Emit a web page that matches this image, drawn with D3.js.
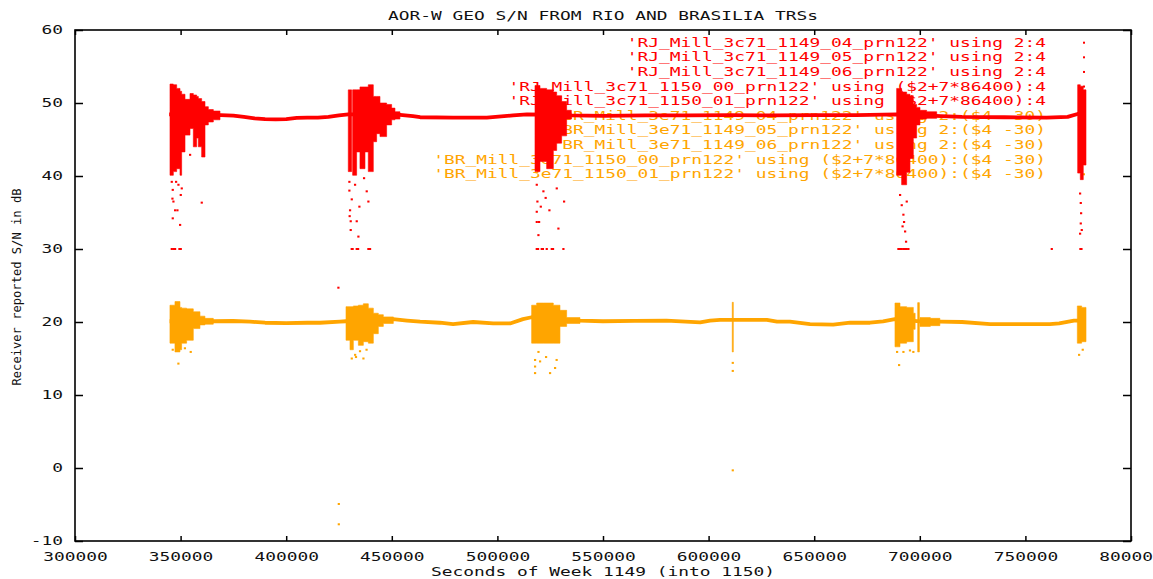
<!DOCTYPE html>
<html>
<head>
<meta charset="utf-8">
<script src="https://cdn.jsdelivr.net/npm/d3@7"></script>
<style>
  html, body { margin: 0; padding: 0; background: #fff; }
  svg { display: block; }
  text { font-family: "DejaVu Sans Mono", "Liberation Mono", monospace; font-size: 12px; fill: #111; }
</style>
</head>
<body>
<svg id="chart" width="1153" height="579"></svg>
<script>
// ---------------- data ----------------
const titleText = "AOR-W GEO S/N FROM RIO AND BRASILIA TRSs";
const xLabelText = "Seconds of Week 1149 (into 1150)";
const yLabelText = "Receiver reported S/N in dB";
const xTicks = [300000, 350000, 400000, 450000, 500000, 550000, 600000, 650000, 700000, 750000, 800000];
const yTicks = [-10, 0, 10, 20, 30, 40, 50, 60];

const legendLabels = [
  "'RJ_Mill_3c71_1149_04_prn122' using 2:4",
  "'RJ_Mill_3c71_1149_05_prn122' using 2:4",
  "'RJ_Mill_3c71_1149_06_prn122' using 2:4",
  "'RJ_Mill_3c71_1150_00_prn122' using ($2+7*86400):4",
  "'RJ_Mill_3c71_1150_01_prn122' using ($2+7*86400):4",
  "'BR_Mill_3e71_1149_04_prn122' using 2:($4 -30)",
  "'BR_Mill_3e71_1149_05_prn122' using 2:($4 -30)",
  "'BR_Mill_3e71_1149_06_prn122' using 2:($4 -30)",
  "'BR_Mill_3e71_1150_00_prn122' using ($2+7*86400):($4 -30)",
  "'BR_Mill_3e71_1150_01_prn122' using ($2+7*86400):($4 -30)"
];
const legendStation = ["RJ","RJ","RJ","RJ","RJ","BR","BR","BR","BR","BR"];

// RJ (Rio) receiver: quiet trace [seconds, dB]
const rjTrace = [
  [344600, 48.45], [369000, 48.35], [375000, 48.27], [380000, 48.1], [385000, 47.9], [390000, 47.8],
  [395000, 47.75], [400000, 47.8], [405000, 47.95], [410000, 48.0], [415000, 48.0], [420000, 48.1],
  [425000, 48.3], [429400, 48.45], [440000, 48.45], [453900, 48.36], [460000, 48.2], [463400, 48.05],
  [479000, 48.0], [495000, 48.0], [507400, 48.3], [514000, 48.45], [525000, 48.4], [535000, 48.3],
  [550000, 48.25], [570000, 48.3], [590000, 48.3], [610000, 48.35], [630000, 48.3], [650000, 48.35],
  [670000, 48.35], [689000, 48.45], [703000, 48.3], [710000, 48.2], [720000, 48.1], [740000, 48.05],
  [760000, 48.0], [770000, 48.1], [774700, 48.5], [778600, 48.5]
];
// RJ noisy bursts: [start s, end s, max dB, min dB] of the dense point cloud
const rjBursts = [
  [344980, 346560, 52.6, 40.1], [346560, 348140, 52.5, 40.6], [348140, 349720, 52.0, 41.0],
  [349720, 350500, 51.6, 40.1], [350500, 352080, 51.2, 43.3], [352080, 354450, 50.5, 45.6],
  [354450, 356030, 51.3, 46.5], [356030, 357600, 51.1, 44.0], [357600, 358400, 50.9, 45.2],
  [358400, 359970, 50.6, 44.0], [359970, 361550, 50.2, 42.6], [361550, 363130, 49.5, 47.0],
  [363130, 365500, 49.1, 47.4], [365500, 368650, 48.9, 47.7],
  [429400, 430980, 51.8, 40.6], [431460, 433350, 51.8, 40.1], [433350, 434930, 51.8, 43.3],
  [434930, 437300, 52.2, 41.0], [437300, 438870, 52.2, 43.3], [438870, 441240, 52.5, 40.6],
  [441240, 442820, 50.9, 44.7], [442820, 444400, 50.9, 45.8], [444400, 447550, 50.0, 45.4],
  [447550, 449920, 49.8, 47.0], [449920, 451500, 49.3, 47.7], [451500, 453860, 48.8, 47.8],
  [517800, 520170, 52.4, 40.6], [520170, 523320, 52.0, 42.0], [523320, 526480, 51.8, 41.0],
  [526480, 528060, 51.5, 43.5], [528060, 530420, 51.0, 44.5], [530420, 532790, 50.2, 45.5],
  [532790, 535000, 49.0, 47.8],
  [689040, 691400, 52.0, 40.1], [691400, 693770, 51.5, 38.8], [693770, 695350, 51.2, 40.5],
  [695350, 696930, 51.0, 42.4], [696930, 698500, 49.8, 45.2], [698500, 700080, 49.4, 47.0],
  [700080, 703240, 49.0, 47.8], [703240, 708000, 48.8, 47.9],
  [774750, 776000, 52.5, 40.4], [776000, 777400, 52.3, 39.5], [777400, 778690, 51.8, 41.5]
];
// RJ scattered low readings [seconds, dB]
const rjDots = [
  [345770, 39.2], [346240, 38.1], [346560, 36.5], [346240, 34.2], [347350, 35.3], [348450, 35.3],
  [349720, 33.3], [350030, 37.4], [348930, 38.8], [359970, 36.35], [354450, 42.9], [347820, 39.2],
  [346090, 36.9], [350500, 38.3], [345770, 30], [346560, 30], [347350, 30], [349400, 30], [350030, 30],
  [429870, 39.2], [429870, 38.0], [430190, 35.3], [430500, 33.8], [430500, 32.6], [430980, 30],
  [431400, 30], [433350, 30], [434000, 30], [434140, 31.7], [433350, 33.8], [434610, 35.8],
  [432560, 38.8], [438080, 37.9], [438870, 36.5], [439660, 30], [438870, 30], [436820, 39.7],
  [430000, 34.5], [431000, 36.8],
  [518590, 38.8], [518900, 36.5], [518590, 35.1], [518590, 33.7], [519380, 31.9], [518590, 30],
  [519200, 30], [520950, 30], [521500, 30], [523320, 30], [525690, 30], [526300, 30], [531210, 30],
  [524580, 35.3], [528840, 32.8], [531530, 36.5], [521740, 37.9], [528060, 38.3], [519700, 33.7],
  [520500, 35.8], [522800, 37.0],
  [690620, 37.4], [691400, 36.0], [692190, 34.7], [692500, 33.7], [693000, 32.4], [693450, 31.0],
  [691800, 33.1], [689830, 30], [690600, 30], [691400, 30], [692200, 30], [692980, 30], [693770, 30],
  [694560, 30], [693770, 36.5],
  [775850, 37.6], [776170, 36.3], [776330, 34.9], [776170, 33.5], [775850, 32.1], [776640, 32.6],
  [776000, 30], [776500, 30], [762440, 30],
  [424670, 24.7]
];

// BR (Brasilia) receiver, shifted by -30 dB: quiet trace [seconds, dB]
const brTrace = [
  [344800, 20.1], [365000, 20.1], [374900, 20.14], [382900, 20.05], [390000, 19.9], [400000, 19.85],
  [410000, 19.9], [416000, 19.9], [425500, 20.05], [428300, 20.1], [440000, 20.2], [450600, 20.4],
  [457200, 20.2], [463400, 20.05], [472800, 19.9], [479000, 19.7], [488500, 20.0], [498000, 19.8],
  [506000, 19.8], [512100, 20.4], [516200, 20.65], [525000, 20.4], [533000, 20.3], [539000, 20.2],
  [550000, 20.1], [565000, 20.15], [580000, 20.2], [596000, 19.95], [600700, 20.2], [605400, 20.3],
  [615000, 20.3], [627600, 20.3], [632400, 20.05], [638500, 20.05], [648000, 19.7], [659000, 19.65],
  [667000, 19.9], [676400, 19.9], [682600, 20.1], [688200, 20.4], [700000, 20.1], [709600, 20.05],
  [720000, 20.0], [733300, 19.7], [761600, 19.7], [766000, 19.8], [773000, 20.2], [778700, 20.2]
];
const brBursts = [
  [344960, 347330, 22.3, 17.1], [347330, 349700, 22.8, 15.9], [349700, 350490, 22.0, 16.2],
  [350490, 352850, 21.9, 17.1], [352850, 356010, 21.8, 17.5], [356010, 359170, 21.4, 19.1],
  [359170, 361530, 20.8, 19.6], [361530, 365480, 20.5, 19.7],
  [428320, 430210, 22.1, 17.5], [430210, 431790, 22.1, 16.2], [431790, 434160, 22.2, 17.5],
  [434160, 436520, 22.3, 16.8], [436520, 438890, 22.5, 17.3], [438890, 441260, 21.9, 17.1],
  [441260, 443620, 21.2, 18.4], [443620, 445990, 21.0, 19.4], [445990, 450720, 20.7, 19.8],
  [516210, 518580, 22.3, 17.1], [518580, 521730, 22.6, 17.1], [521730, 526470, 22.6, 17.1],
  [526470, 529630, 22.3, 17.1], [529630, 532790, 21.6, 19.4], [532790, 539100, 20.6, 19.8],
  [611200, 611700, 22.7, 15.9],
  [688250, 690620, 22.6, 16.6], [690620, 693770, 22.1, 17.1], [693770, 696930, 22.0, 17.3],
  [696930, 697800, 21.2, 19.0], [699000, 699800, 22.65, 15.9], [700080, 705000, 20.6, 19.4],
  [705000, 709500, 20.5, 19.5],
  [774590, 776640, 22.2, 17.1], [776640, 778700, 22.0, 17.3]
];
const brDots = [
  [348910, 14.3], [346230, 16.2], [354750, 15.9], [352000, 16.4],
  [431000, 15.0], [432600, 15.5], [436520, 15.0], [434900, 16.0], [438000, 16.2], [433000, 15.2],
  [517790, 14.8], [517790, 13.9], [517790, 13.0], [520160, 14.6], [523000, 15.2], [524890, 13.0],
  [527260, 13.7], [528000, 14.8], [519400, 15.9],
  [611400, 14.4], [611400, 13.3],
  [690150, 14.1], [689200, 15.9], [692200, 15.9], [695300, 16.1], [696900, 15.9],
  [775380, 15.5], [777100, 16.2],
  [424860, -4.93], [424860, -7.71], [611400, -0.32]
];

// ---------------- drawing ----------------
const colors = { RJ: "#ff0000", BR: "#ffa500" };
const CW = 10.75; // character advance of the plot font
const svg = d3.select("#chart");
const plot = { left: 75, right: 1131, top: 30, bottom: 541 };

const x = d3.scaleLinear().domain([300000, 800000]).range([plot.left, plot.right]);
const y = d3.scaleLinear().domain([-10, 60]).range([plot.bottom, plot.top]);

function fit(sel) {
  sel.each(function () {
    const n = this.textContent.length;
    d3.select(this).attr("textLength", n * CW).attr("lengthAdjust", "spacingAndGlyphs");
  });
}

// axes (ticks inward, mirrored)
const gB = svg.append("g").attr("transform", `translate(0,${plot.bottom})`)
  .call(d3.axisBottom(x).tickValues(xTicks).tickSize(-5).tickPadding(11).tickFormat(d3.format("d")));
const gT = svg.append("g").attr("transform", `translate(0,${plot.top})`)
  .call(d3.axisTop(x).tickValues(xTicks).tickSize(-5).tickFormat(""));
const gL = svg.append("g").attr("transform", `translate(${plot.left},0)`)
  .call(d3.axisLeft(y).tickValues(yTicks).tickSize(-8).tickPadding(12).tickFormat(d3.format("d")));
const gR = svg.append("g").attr("transform", `translate(${plot.right},0)`)
  .call(d3.axisRight(y).tickValues(yTicks).tickSize(-8).tickFormat(""));
[gB, gT, gL, gR].forEach(g => {
  g.select(".domain").remove();
  g.selectAll("line").attr("stroke", "#000").attr("stroke-width", 1.5);
  g.attr("font-family", null).attr("font-size", null);
});
gB.selectAll("text").each(function () {
  const n = this.textContent.length;
  d3.select(this).attr("text-anchor", "start").attr("x", -n * CW / 2);
}).call(fit);
gL.selectAll("text").text(d => String(d)).each(function () {
  const n = this.textContent.length;
  d3.select(this).attr("text-anchor", "start").attr("x", -12 - n * CW);
}).call(fit);

svg.append("rect")
  .attr("x", plot.left).attr("y", plot.top)
  .attr("width", plot.right - plot.left).attr("height", plot.bottom - plot.top)
  .attr("fill", "none").attr("stroke", "#000").attr("stroke-width", 1.6);

// title & axis labels
const cx = (plot.left + plot.right) / 2;
svg.append("text").attr("x", cx - titleText.length * CW / 2).attr("y", 19.5).text(titleText).call(fit);
svg.append("text").attr("x", cx - xLabelText.length * CW / 2).attr("y", 576).text(xLabelText).call(fit);
svg.append("g").attr("transform", "translate(16,287) rotate(-90)")
  .append("text").attr("x", -98.5).attr("y", 4.5).attr("font-size", "13px")
  .attr("textLength", 197).attr("lengthAdjust", "spacingAndGlyphs").text(yLabelText);

// legend (drawn beneath the data, as in the original)
const legRight = 1046, legTop = 46.7, legStep = 14.62, legSampleX = 1084;
const leg = svg.append("g");
legendLabels.forEach((lab, i) => {
  const yy = legTop + i * legStep;
  leg.append("text").attr("x", legRight - lab.length * CW).attr("y", yy)
    .style("fill", colors[legendStation[i]]).text(lab).call(fit);
  leg.append("rect").attr("x", legSampleX - 1).attr("y", yy - 5).attr("width", 2).attr("height", 2)
    .attr("fill", colors[legendStation[i]]);
});

// group contiguous burst blocks into one stepped envelope each
function groupBursts(bursts) {
  const groups = [];
  let cur = null;
  bursts.forEach(b => {
    if (!cur || b[0] > cur[cur.length - 1][1] + 1) { cur = []; groups.push(cur); }
    cur.push(b);
  });
  return groups.map(g => {
    const pts = g.map(b => ({ t: b[0], hi: b[2], lo: b[3] }));
    const last = g[g.length - 1];
    pts.push({ t: last[1], hi: last[2], lo: last[3] });
    return pts;
  });
}

// data
function drawStation(trace, bursts, dots, color) {
  const g = svg.append("g");
  g.append("path").datum(trace)
    .attr("d", d3.line().x(d => x(d[0])).y(d => y(d[1])))
    .attr("fill", "none").attr("stroke", color).attr("stroke-width", 3.8)
    .attr("stroke-linejoin", "round");
  const area = d3.area().curve(d3.curveStepAfter)
    .x(d => x(d.t)).y0(d => y(d.lo)).y1(d => y(d.hi));
  g.selectAll("path.b").data(groupBursts(bursts)).join("path").attr("class", "b")
    .attr("d", area).attr("fill", color).attr("stroke", color).attr("stroke-width", 0.6);
  g.selectAll("rect.d").data(dots).join("rect").attr("class", "d")
    .attr("x", d => x(d[0]) - 1).attr("y", d => y(d[1]) - 1)
    .attr("width", 2.2).attr("height", 2).attr("fill", color);
}
drawStation(rjTrace, rjBursts, rjDots, colors.RJ);
drawStation(brTrace, brBursts, brDots, colors.BR);
</script>
</body>
</html>
